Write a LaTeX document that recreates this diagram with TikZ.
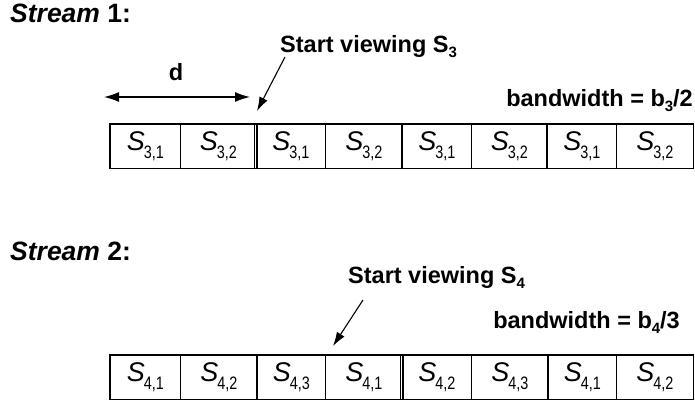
\documentclass[tikz,border=0pt]{standalone}
\usepackage{fontspec}
\usepackage{graphicx}
\setmainfont{Liberation Sans}
\usetikzlibrary{arrows.meta}
\newcommand{\cellS}[2]{{\fontsize{27}{27}\selectfont\textit{S}}\kern-1pt\raisebox{-8pt}{\scalebox{0.8}[1]{\fontsize{18}{18}\selectfont #1,#2}}}
\newcommand{\lsub}[1]{\raisebox{-5pt}{\fontsize{15}{15}\selectfont #1}}
\tikzset{
  lbl/.style={inner sep=0pt, font=\fontsize{23.5}{23.5}\selectfont\bfseries},
  strm/.style={inner sep=0pt, font=\fontsize{26.5}{26.5}\selectfont\bfseries},
  cell/.style={draw, line width=0.8pt, inner sep=0pt, minimum height=44pt, anchor=north west},
  thickdiv/.style={line width=2pt},
  dbl/.style={line width=0.8pt},
  pointer/.style={line width=1.1pt, -{Latex[length=14pt,width=9pt]}},
  dim/.style={line width=1.3pt, {Latex[length=15pt,width=10pt]}-{Latex[length=15pt,width=10pt]}}
}
\begin{document}
\begin{tikzpicture}[x=1pt,y=-1pt]
\useasboundingbox (0,0) rectangle (695,402);
% ---------- Stream 1 ----------
\node[strm, anchor=base west] (st1) at (10,22) {\textit{Stream} 1:};
\node[lbl, anchor=base west] (sv1) at (280,52) {Start viewing S\lsub{3}};
\node[lbl, anchor=base east] (bw1) at (693,106) {bandwidth = b\lsub{3}/2};
\node[lbl, anchor=base] (d) at (176,80) {d};
\coordinate (dl) at (104,97);
\coordinate (dr) at (250,97);
\draw[dim] (dl) -- (dr);
\coordinate (p1s) at (285,57);
\coordinate (p1e) at (257,111);
\draw[pointer] (p1s) -- (p1e);
% cells row 1
\foreach \i/\a/\b/\t in {1/110/180/{\cellS{3}{1}},2/180/256/{\cellS{3}{2}},3/256/325/{\cellS{3}{1}},4/325/402/{\cellS{3}{2}},5/402/471/{\cellS{3}{1}},6/471/547/{\cellS{3}{2}},7/547/616/{\cellS{3}{1}},8/616/693/{\cellS{3}{2}}}{
  \pgfmathsetmacro{\w}{\b-\a}
  \node[cell, minimum width=\w pt] (r1c\i) at (\a,124) {\t};
}
\draw[line width=1.2pt] (r1c1.north west) rectangle (r1c8.south east);
\draw[dbl] ([xshift=-1.2pt]r1c3.north west) -- ([xshift=-1.2pt]r1c3.south west);
\draw[dbl] ([xshift=1.2pt]r1c3.north west) -- ([xshift=1.2pt]r1c3.south west);
\draw[thickdiv] (r1c5.north west) -- (r1c5.south west);
\draw[thickdiv] (r1c7.north west) -- (r1c7.south west);
% ---------- Stream 2 ----------
\node[strm, anchor=base west] (st2) at (10,260) {\textit{Stream} 2:};
\node[lbl, anchor=base west] (sv2) at (348,283) {Start viewing S\lsub{4}};
\node[lbl, anchor=base east] (bw2) at (680,328) {bandwidth = b\lsub{4}/3};
\coordinate (p2s) at (363,300);
\coordinate (p2e) at (333,346);
\draw[pointer] (p2s) -- (p2e);
\foreach \i/\a/\b/\t in {1/110/180/{\cellS{4}{1}},2/180/257/{\cellS{4}{2}},3/257/325/{\cellS{4}{3}},4/325/402/{\cellS{4}{1}},5/402/471/{\cellS{4}{2}},6/471/548/{\cellS{4}{3}},7/548/616/{\cellS{4}{1}},8/616/693/{\cellS{4}{2}}}{
  \pgfmathsetmacro{\w}{\b-\a}
  \node[cell, minimum width=\w pt] (r2c\i) at (\a,355) {\t};
}
\draw[line width=1.2pt] (r2c1.north west) rectangle (r2c8.south east);
\draw[thickdiv] (r2c3.north west) -- (r2c3.south west);
\draw[dbl] ([xshift=-1.2pt]r2c5.north west) -- ([xshift=-1.2pt]r2c5.south west);
\draw[dbl] ([xshift=1.2pt]r2c5.north west) -- ([xshift=1.2pt]r2c5.south west);
\draw[thickdiv] (r2c7.north west) -- (r2c7.south west);
\end{tikzpicture}
\end{document}
